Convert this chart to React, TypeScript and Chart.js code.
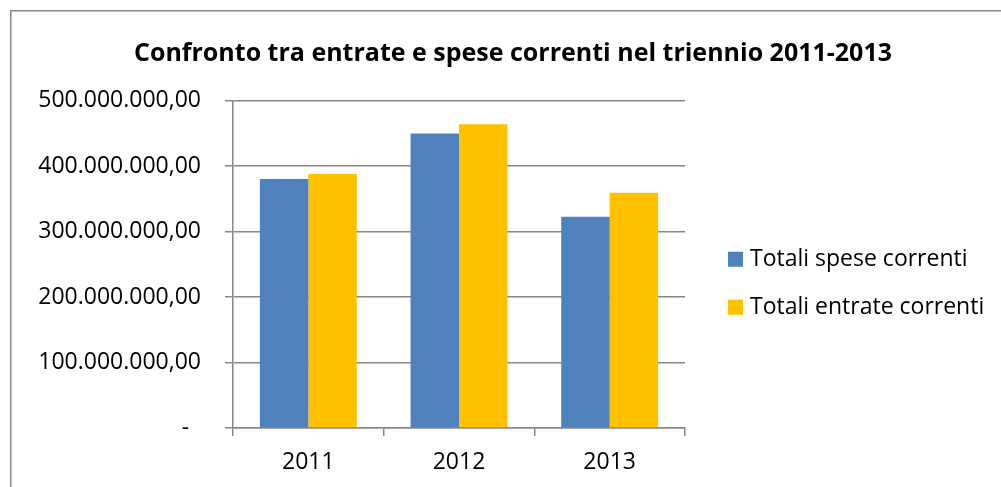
import React, { useEffect, useRef } from 'react';
import { Chart, registerables } from 'chart.js';

Chart.register(...registerables);

const TITLE = 'Confronto tra entrate e spese correnti nel triennio 2011-2013';
const CATEGORIES = ['2011', '2012', '2013'];
const SERIES_NAMES = ['Totali spese correnti', 'Totali entrate correnti'];
const SPESE = [380200000, 449800000, 322600000];
const ENTRATE = [387800000, 463600000, 359300000];
const COLORS = ['#4F81BD', '#FFC000'];
const Y_MIN = 0;
const Y_MAX = 500000000;
const Y_STEP = 100000000;

const FONT_FAMILY = '"Open Sans", "Liberation Sans", sans-serif';
const GRID_COLOR = '#878787';

function fmtIt(v: number): string {
  if (v === 0) return '-  ';
  const [intPart, dec] = Math.abs(v).toFixed(2).split('.');
  const withDots = intPart.replace(/\B(?=(\d{3})+(?!\d))/g, '.');
  return (v < 0 ? '-' : '') + withDots + ',' + dec;
}

const framePlugin = {
  id: 'frame',
  beforeDraw(chart: any) {
    const ctx = chart.ctx;
    ctx.save();
    ctx.strokeStyle = '#8a8a8a';
    ctx.lineWidth = 1.5;
    ctx.beginPath();
    ctx.moveTo(10.75, chart.height);
    ctx.lineTo(10.75, 10.75);
    ctx.lineTo(chart.width, 10.75);
    ctx.stroke();
    ctx.restore();
  },
};

const legendPlugin = {
  id: 'sideLegend',
  afterDraw(chart: any) {
    const ctx = chart.ctx;
    const area = chart.chartArea;
    const mid = (area.top + area.bottom) / 2;
    const boxX = area.right + 43;
    const box = 15;
    const rowGap = 48;
    const firstY = mid - 5;
    ctx.save();
    ctx.font = `23px ${FONT_FAMILY}`;
    ctx.textBaseline = 'middle';
    ctx.textAlign = 'left';
    chart.data.datasets.forEach((ds: any, i: number) => {
      const cy = firstY + i * rowGap;
      ctx.fillStyle = ds.backgroundColor;
      ctx.fillRect(boxX, cy - box / 2, box, box);
      ctx.fillStyle = '#000000';
      ctx.fillText(ds.label, boxX + box + 7, cy);
    });
    ctx.restore();
  },
};

export default function App() {
  const canvasRef = useRef<HTMLCanvasElement | null>(null);

  useEffect(() => {
    if (!canvasRef.current) return;
    const chart = new Chart(canvasRef.current, {
      type: 'bar',
      data: {
        labels: CATEGORIES,
        datasets: [
          {
            label: SERIES_NAMES[0],
            data: SPESE,
            backgroundColor: COLORS[0],
            borderWidth: 0,
            categoryPercentage: 0.643,
            barPercentage: 1.0,
          },
          {
            label: SERIES_NAMES[1],
            data: ENTRATE,
            backgroundColor: COLORS[1],
            borderWidth: 0,
            categoryPercentage: 0.643,
            barPercentage: 1.0,
          },
        ],
      },
      options: {
        animation: false,
        responsive: false,
        maintainAspectRatio: false,
        devicePixelRatio: 1,
        layout: { padding: { left: 25, right: 0, top: 0, bottom: 0 } },
        plugins: {
          legend: { display: false },
          tooltip: { enabled: false },
          title: {
            display: true,
            text: TITLE,
            color: '#000000',
            font: { family: FONT_FAMILY, size: 25, weight: 'bold', lineHeight: 1.2 },
            padding: { top: 39, bottom: 31.5 },
          },
        },
        scales: {
          x: {
            type: 'category',
            offset: true,
            grid: {
              display: true,
              drawOnChartArea: false,
              drawTicks: true,
              tickLength: 8,
              offset: true,
              color: GRID_COLOR,
              lineWidth: 1.5,
            },
            border: { display: true, color: GRID_COLOR, width: 1.5 },
            ticks: {
              color: '#000000',
              font: { family: FONT_FAMILY, size: 23, lineHeight: 1.2 },
              padding: 13,
              maxRotation: 0,
            },
            afterFit: (s: any) => {
              s.height = 59;
            },
          },
          y: {
            type: 'linear',
            min: Y_MIN,
            max: Y_MAX,
            grid: {
              color: GRID_COLOR,
              lineWidth: 1.5,
              drawTicks: true,
              tickLength: 8,
            },
            border: { display: true, color: GRID_COLOR, width: 1.5 },
            ticks: {
              stepSize: Y_STEP,
              color: '#000000',
              font: { family: FONT_FAMILY, size: 23, lineHeight: 1.2 },
              padding: 24,
              callback: (v: any) => fmtIt(Number(v)),
            },
            afterFit: (s: any) => {
              s.width = 208;
            },
          },
          legendSpace: {
            type: 'linear',
            position: 'right',
            display: true,
            grid: { display: false, drawTicks: false },
            border: { display: false },
            ticks: { display: false },
            afterFit: (s: any) => {
              s.width = 316;
            },
          },
        },
      },
      plugins: [framePlugin, legendPlugin],
    } as any);
    return () => chart.destroy();
  }, []);

  return (
    <div style={{ position: 'absolute', left: 0, top: 0, width: 1001, height: 487, background: '#ffffff' }}>
      <canvas ref={canvasRef} width={1001} height={487} style={{ display: 'block', width: 1001, height: 487 }} />
    </div>
  );
}
